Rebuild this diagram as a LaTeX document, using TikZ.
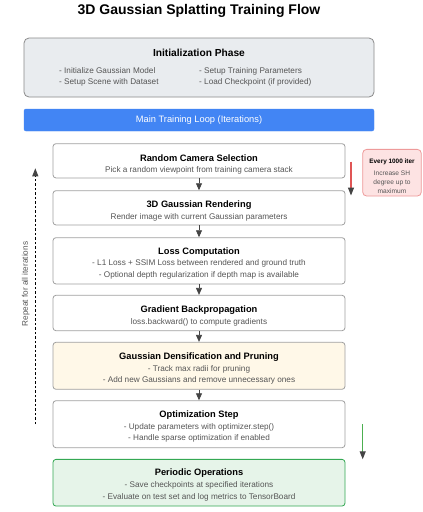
\documentclass[tikz,border=0pt]{standalone}
\usepackage{fontspec}
\setmainfont{Liberation Sans}
\usetikzlibrary{arrows.meta}
\definecolor{initfill}{HTML}{E9ECEF}
\definecolor{initdraw}{HTML}{8A8A8A}
\definecolor{loopblue}{HTML}{4285F4}
\definecolor{boxdraw}{HTML}{A0A0A0}
\definecolor{subgray}{HTML}{555555}
\definecolor{creamfill}{HTML}{FFF8E8}
\definecolor{greenfill}{HTML}{E6F4E9}
\definecolor{greendraw}{HTML}{34A853}
\definecolor{pinkfill}{HTML}{FDE3E3}
\definecolor{pinkdraw}{HTML}{EE9A9A}
\definecolor{redline}{HTML}{E05555}
\definecolor{greenline}{HTML}{4CAF50}
\definecolor{arrowgray}{HTML}{444444}
\tikzset{
  stepbox/.style={draw=boxdraw, line width=0.8pt, rounded corners=3pt, fill=white, minimum width=292pt, inner sep=0pt},
  ttl/.style={font=\fontsize{9.3}{11}\selectfont\bfseries, text=black, inner sep=0pt},
  sub/.style={font=\fontsize{8.2}{10}\selectfont, text=subgray, inner sep=0pt},
  flowarrow/.style={draw=arrowgray, line width=0.8pt, -{Triangle[width=6pt,length=7pt,color=arrowgray]}},
  sidearrow/.style={line width=1.1pt, -{Triangle[width=6pt,length=8pt,color=arrowgray]}},
}
\begin{document}
\begin{tikzpicture}[x=1pt,y=-1pt]
\useasboundingbox (0,0) rectangle (423,512);
\fill[white] (0,0) rectangle (423,512);
% title
\node[font=\fontsize{14}{16}\selectfont\bfseries, inner sep=0pt] (title) at (199,11) {3D Gaussian Splatting Training Flow};
% init
\node[draw=initdraw, line width=0.8pt, fill=initfill, rounded corners=5pt, minimum width=350pt, minimum height=59pt, inner sep=0pt] (init) at (199,67.5) {};
\node[font=\fontsize{10.2}{12}\selectfont\bfseries, inner sep=0pt] (inittitle) at (199,53) {Initialization Phase};
\node[sub, anchor=west] (i1) at (59,71) {- Initialize Gaussian Model};
\node[sub, anchor=west] (i2) at (59,82.5) {- Setup Scene with Dataset};
\node[sub, anchor=west] (i3) at (199,71) {- Setup Training Parameters};
\node[sub, anchor=west] (i4) at (199,82.5) {- Load Checkpoint (if provided)};
% loop bar
\node[fill=loopblue, draw=loopblue, rounded corners=2pt, minimum width=350pt, minimum height=22pt, inner sep=0pt, text=white, font=\fontsize{9.3}{11}\selectfont] (loop) at (199,120) {Main Training Loop (Iterations)};
% steps
\node[stepbox, minimum height=34.3pt] (b1) at (199,160.8) {};
\node[ttl] (b1t) at (199,157.7) {Random Camera Selection};
\node[sub] (b1s) at (199,170.7) {Pick a random viewpoint from training camera stack};

\node[stepbox, minimum height=34.3pt] (b2) at (199,207.8) {};
\node[ttl] (b2t) at (199,204.7) {3D Gaussian Rendering};
\node[sub] (b2s) at (199,217) {Render image with current Gaussian parameters};

\node[stepbox, minimum height=46.3pt] (b3) at (199,260.8) {};
\node[ttl] (b3t) at (199,251.7) {Loss Computation};
\node[sub] (b3s1) at (199,263.7) {- L1 Loss + SSIM Loss between rendered and ground truth};
\node[sub] (b3s2) at (199,275.7) {- Optional depth regularization if depth map is available};

\node[stepbox, minimum height=35.4pt] (b4) at (199,313) {};
\node[ttl] (b4t) at (199,310) {Gradient Backpropagation};
\node[sub] (b4s) at (199,322.3) {loss.backward() to compute gradients};

\node[stepbox, fill=creamfill, minimum height=47pt] (b5) at (199,365.8) {};
\node[ttl] (b5t) at (199,356.7) {Gaussian Densification and Pruning};
\node[sub] (b5s1) at (199,369) {- Track max radii for pruning};
\node[sub] (b5s2) at (199,380.3) {- Add new Gaussians and remove unnecessary ones};

\node[stepbox, minimum height=47pt] (b6) at (199,424.2) {};
\node[ttl] (b6t) at (199,415.3) {Optimization Step};
\node[sub] (b6s1) at (199,427) {- Update parameters with optimizer.step()};
\node[sub] (b6s2) at (199,438.7) {- Handle sparse optimization if enabled};

\node[stepbox, draw=greendraw, fill=greenfill, minimum height=46.7pt] (b7) at (199,482.7) {};
\node[ttl] (b7t) at (199,473) {Periodic Operations};
\node[sub] (b7s1) at (199,485.3) {- Save checkpoints at specified iterations};
\node[sub] (b7s2) at (199,497.3) {- Evaluate on test set and log metrics to TensorBoard};

% arrows between steps
\draw[flowarrow] (b1.south) -- (b2.north);
\draw[flowarrow] (b2.south) -- (b3.north);
\draw[flowarrow] (b3.south) -- (b4.north);
\draw[flowarrow] (b4.south) -- (b5.north);
\draw[flowarrow] (b5.south) -- (b6.north);

% note
\node[draw=pinkdraw, line width=0.8pt, fill=pinkfill, rounded corners=4pt, minimum width=58.6pt, minimum height=46.7pt, inner sep=0pt] (note) at (392,172.7) {};
\node[font=\fontsize{6.4}{8}\selectfont\bfseries, inner sep=0pt] (nt) at (392,162) {Every 1000 iter};
\node[font=\fontsize{6.6}{8}\selectfont, text=subgray, inner sep=0pt] (n1) at (392,173.7) {Increase SH};
\node[font=\fontsize{6.6}{8}\selectfont, text=subgray, inner sep=0pt] (n2) at (392,182.5) {degree up to};
\node[font=\fontsize{6.6}{8}\selectfont, text=subgray, inner sep=0pt] (n3) at (392,191) {maximum};

% red arrow
\coordinate (ra) at (351,161.7);
\coordinate (rb) at (351,195.5);
\draw[sidearrow, draw=redline] (ra) -- (rb);
% green arrow
\coordinate (ga) at (362.7,424);
\coordinate (gb) at (362.7,459.3);
\draw[sidearrow, draw=greenline] (ga) -- (gb);

% loop dashed arrow
\coordinate (la) at (35.3,424);
\coordinate (lb) at (35.3,168.3);
\draw[line width=0.9pt, draw=black, dash pattern=on 2.5pt off 2pt, -{Triangle[width=6pt,length=8pt,color=arrowgray]}] (la) -- (lb);
\node[rotate=90, font=\fontsize{8.2}{10}\selectfont, text=subgray, inner sep=0pt] (lbl) at (25.7,284) {Repeat for all iterations};
\end{tikzpicture}
\end{document}
